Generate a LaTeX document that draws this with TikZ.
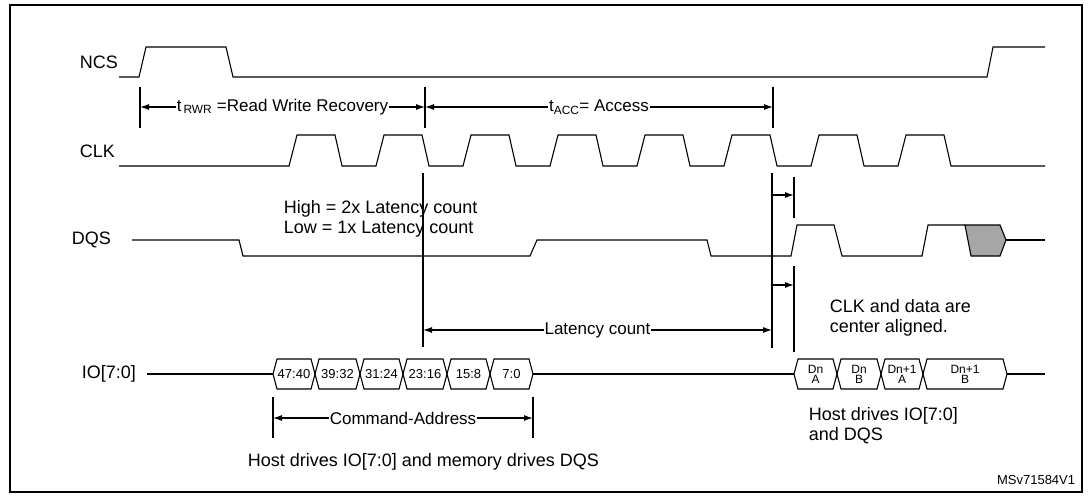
\documentclass[tikz,border=0pt]{standalone}
\usepackage{fontspec}
\setmainfont{Liberation Sans}
\usetikzlibrary{arrows.meta}
\begin{document}
\begin{tikzpicture}[x=1pt,y=-1pt,line width=1.1pt,
                      sig/.style = {anchor=west,font=\fontsize{18}{20}\selectfont},
                      txt/.style = {anchor=west,font=\fontsize{18}{20}\selectfont,align=left},
                      bus/.style = {font=\fontsize{13}{13}\selectfont},
                      dat/.style = {font=\fontsize{12}{10}\selectfont,align=center},
                      dim/.style = {{Latex[length=9pt,width=6pt]}-{Latex[length=9pt,width=6pt]}},
                      one/.style = {-{Latex[length=9pt,width=6pt]}},
                      lbl/.style = {fill=white,inner sep=1pt,font=\fontsize{17}{18}\selectfont}]
                  \useasboundingbox (0,0) rectangle (1089,497);
                  \draw (10,5) rectangle (1082,492);
                  % signal names
                  \node[sig] (ncs) at (76,62) {NCS};
                  \node[sig] (clk) at (76,151) {CLK};
                  \node[sig] (dqs) at (68,240) {DQS};
                  \node[sig] (io) at (78,374) {IO[7:0]};
                  % NCS
                  \draw (119,77) -- (139,77) -- (146,47) -- (226,47) -- (233,77)
                  -- (987,77) -- (993,47) -- (1045,47);
                  % CLK
                  \draw (119,166) foreach \r in {289,376,...,900}
                  { -- (\r,166) -- (\r+8,135) -- (\r+46,135) -- (\r+53,166) } -- (1045,166);
                  % DQS
                  \draw (132,240) -- (239,240) -- (243,256) -- (530,256) -- (537,240)
                  -- (707,240) -- (711,256) -- (791,256) -- (797,225) -- (834,225)
                  -- (842,256) -- (922,256) -- (928,225) -- (965,225);
                  \draw[fill=gray!70] (965,225) -- (1000,225) -- (1006,240) -- (1000,256)
                  -- (971,256) -- cycle;
                  \draw (1006,240) -- (1045,240);
                  % IO bus
                  \draw (147,374) -- (273,374) (533,374) -- (794,374) (1007,374) -- (1045,374);
                  \foreach \a/\b/\t [count=\i] in {273/315/47:40,315/360/39:32,360/403/31:24,
                  403/447/23:16,447/490/15:8,490/533/7:0}
                  { \draw (\a,374) -- (\a+4,359) -- (\b-4,359) -- (\b,374) -- (\b-4,389)
                  -- (\a+4,389) -- cycle;
                  \node[bus] (ca\i) at ({(\a+\b)/2},374) {\t}; }
                  \foreach \a/\b/\t [count=\i] in {794/837/{Dn\\A},837/881/{Dn\\B},
                  881/923/{Dn+1\\A},923/1007/{Dn+1\\B}}
                  { \draw (\a,374) -- (\a+4,359) -- (\b-4,359) -- (\b,374) -- (\b-4,389)
                  -- (\a+4,389) -- cycle;
                  \node[dat] (d\i) at ({(\a+\b)/2},374) {\t}; }
                  % timing marks
                  \coordinate (rwrA) at (140,107);
                  \coordinate (rwrB) at (425,107);
                  \coordinate (accB) at (773,107);
                  \draw (140,87) -- (140,128) (425,87) -- (425,128) (773,87) -- (773,128);
                  \draw[dim] (rwrA) -- (rwrB) node[lbl,midway] (rwr) {t\textsubscript{\,RWR} =Read Write Recovery};
                  \draw[dim] (rwrB) -- (accB) node[lbl,midway] (acc) {t\textsubscript{ACC}= Access};
                  \draw (423,173) -- (423,347) (772,173) -- (772,348)
                  (794,177) -- (794,218) (794,266) -- (794,352);
                  \coordinate (latA) at (423,330);
                  \coordinate (latB) at (772,330);
                  \draw[dim] (latA) -- (latB) node[lbl,midway] (lat) {Latency count};
                  \coordinate (skA) at (772,195);
                  \coordinate (skB) at (794,195);
                  \coordinate (skC) at (772,285);
                  \coordinate (skD) at (794,285);
                  \draw[one] (skA) -- (skB);
                  \draw[one] (skC) -- (skD);
                  \draw (273,397) -- (273,438) (533,397) -- (533,438);
                  \coordinate (caA) at (273,418);
                  \coordinate (caB) at (533,418);
                  \draw[dim] (caA) -- (caB) node[lbl,midway] (cmd) {Command-Address};
                  % notes
                  \node[txt] (lc) at (280,219) {High = 2x Latency count\\Low = 1x Latency count};
                  \node[txt] (ctr) at (826,318) {CLK and data are\\center aligned.};
                  \node[txt] (hst) at (805,426) {Host drives IO[7:0]\\and DQS};
                  \node[txt] (mem) at (244,462) {Host drives IO[7:0] and memory drives DQS};
                  \node[anchor=east,font=\fontsize{13}{13}\selectfont] (ref) at (1079,480) {MSv71584V1};
              \end{tikzpicture}
\end{document}
